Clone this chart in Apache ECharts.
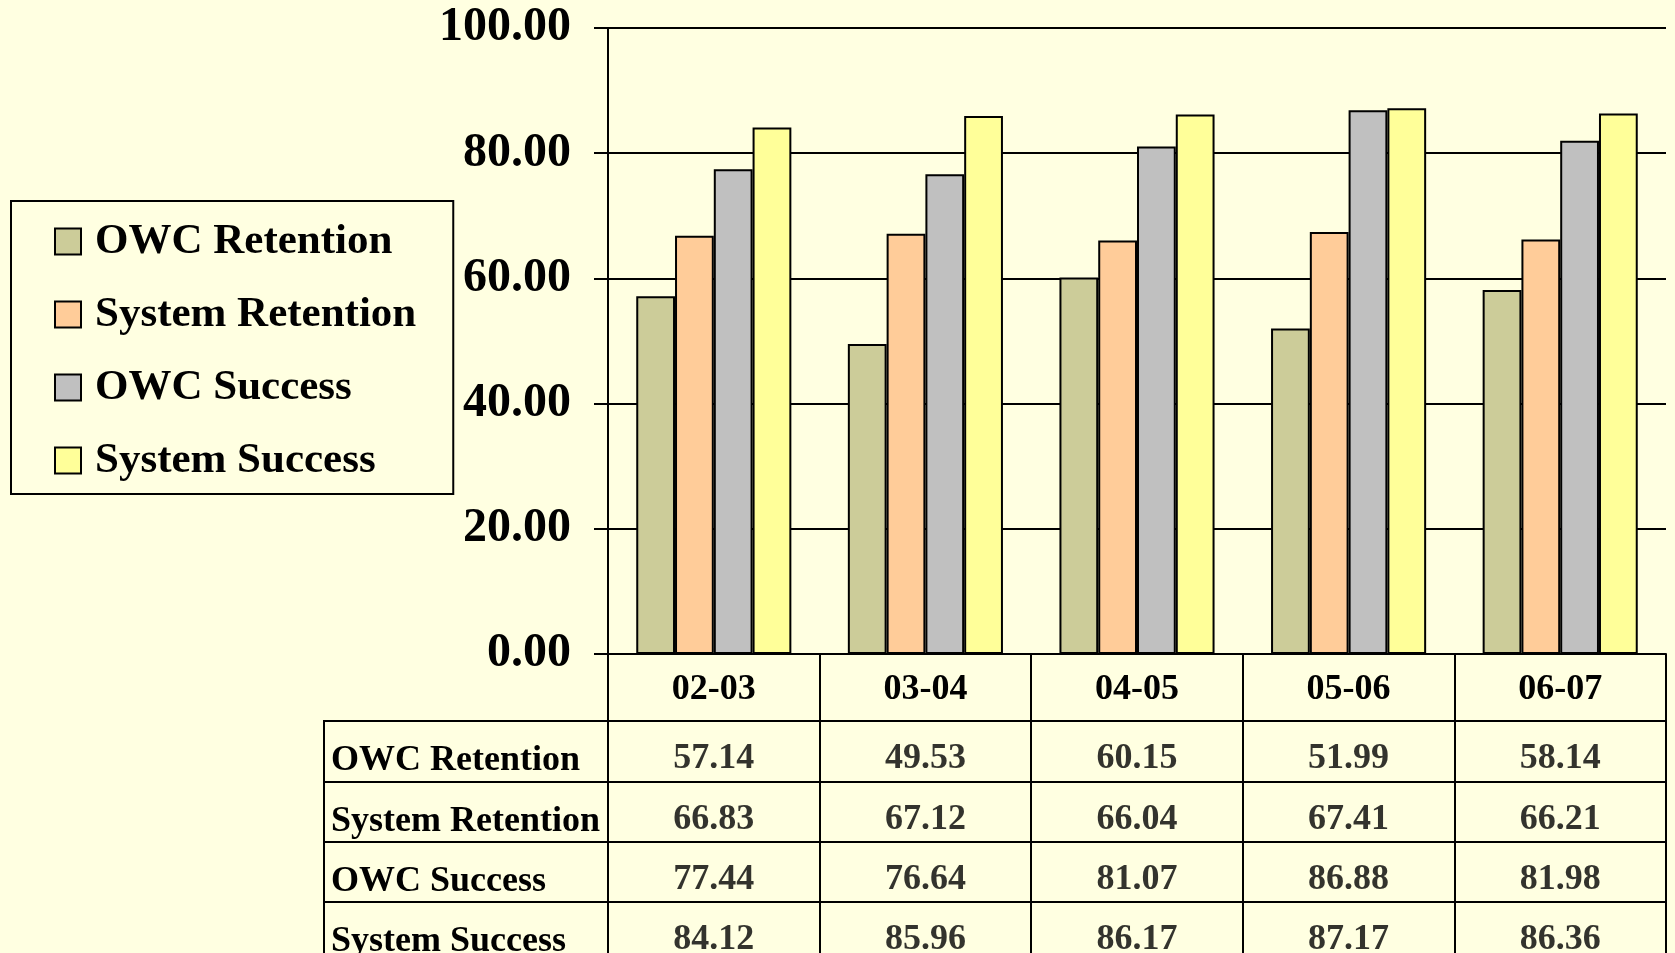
<!DOCTYPE html>
<html>
<head>
<meta charset="utf-8">
<script src="https://cdn.jsdelivr.net/npm/echarts@6/dist/echarts.min.js"></script>
<style>
html,body{margin:0;padding:0;background:#FFFFE1;}
#c{width:1675px;height:953px;}
</style>
</head>
<body>
<div id="c"></div>
<script>
const categories = ['02-03', '03-04', '04-05', '05-06', '06-07'];
const seriesNames = ['OWC Retention', 'System Retention', 'OWC Success', 'System Success'];
const owcRetention = [57.14, 49.53, 60.15, 51.99, 58.14];
const systemRetention = [66.83, 67.12, 66.04, 67.41, 66.21];
const owcSuccess = [77.44, 76.64, 81.07, 86.88, 81.98];
const systemSuccess = [84.12, 85.96, 86.17, 87.17, 86.36];
const colors = ['#CCCC99', '#FFCC99', '#C0C0C0', '#FFFF99'];
const yTicks = [0, 20, 40, 60, 80, 100];

const allValues = [owcRetention, systemRetention, owcSuccess, systemSuccess];
const FONT = '"Liberation Serif", "Times New Roman", serif';

const chart = echarts.init(document.getElementById('c'));

const tableData = [];
allValues.forEach((arr, si) => arr.forEach((v, ci) => tableData.push([ci, si, v])));

const barSeries = seriesNames.map((name, i) => ({
  name: name,
  type: 'bar',
  xAxisIndex: 0,
  yAxisIndex: 0,
  data: allValues[i],
  barGap: '0%',
  barCategoryGap: '26.7%',
  itemStyle: { color: colors[i], borderColor: '#000', borderWidth: 2 },
  emphasis: { disabled: true }
}));

chart.setOption({
  backgroundColor: '#FFFFE1',
  animation: false,
  legend: {
    data: seriesNames,
    orient: 'vertical',
    left: 11,
    top: 201,
    padding: [19, 37, 12, 43],
    borderColor: '#000',
    borderWidth: 2,
    itemWidth: 26,
    itemHeight: 26,
    itemGap: 30,
    icon: 'rect',
    itemStyle: { borderColor: '#000', borderWidth: 2 },
    textStyle: {
      fontFamily: FONT, fontWeight: 'bold', fontSize: 43, color: '#000',
      lineHeight: 30, padding: [0, 0, 0, 9]
    },
    selectedMode: false
  },
  grid: [
    { left: 608, top: 28, width: 1058, height: 626, outerBoundsMode: 'none' },
    { left: 608, top: 721, width: 1058, height: 241, outerBoundsMode: 'none' }
  ],
  xAxis: [
    {
      type: 'category',
      gridIndex: 0,
      data: categories,
      axisLine: { show: true, lineStyle: { color: '#000', width: 2 } },
      axisTick: { show: true, length: 300, lineStyle: { color: '#000', width: 2 } },
      axisLabel: {
        fontFamily: FONT, fontWeight: 'bold', fontSize: 36, color: '#000',
        margin: 36, verticalAlign: 'middle'
      },
      splitLine: { show: false }
    },
    {
      type: 'category',
      gridIndex: 1,
      data: categories,
      axisLine: { show: false },
      axisTick: { show: false },
      axisLabel: { show: false },
      splitLine: { show: false }
    }
  ],
  yAxis: [
    {
      type: 'value',
      gridIndex: 0,
      min: yTicks[0],
      max: yTicks[yTicks.length - 1],
      interval: 20,
      axisLine: { show: true, lineStyle: { color: '#000', width: 2 } },
      axisTick: { show: true, length: 14, lineStyle: { color: '#000', width: 2 } },
      splitLine: { show: true, lineStyle: { color: '#000', width: 2 } },
      axisLabel: {
        fontFamily: FONT, fontWeight: 'bold', fontSize: 48, color: '#000',
        margin: 37, formatter: v => v.toFixed(2)
      }
    },
    {
      type: 'category',
      gridIndex: 1,
      inverse: true,
      data: seriesNames,
      axisLine: { show: true, lineStyle: { color: '#000', width: 2 } },
      axisTick: { show: true, length: 285, lineStyle: { color: '#000', width: 2 } },
      splitLine: { show: true, lineStyle: { color: '#000', width: 2 } },
      axisLabel: {
        fontFamily: FONT, fontWeight: 'bold', fontSize: 36, color: '#000',
        align: 'left', margin: 277, verticalAlign: 'top', lineHeight: 20
      }
    }
  ],
  series: barSeries.concat([{
    type: 'scatter',
    xAxisIndex: 1,
    yAxisIndex: 1,
    symbolSize: 0,
    data: tableData,
    silent: true,
    label: {
      show: true,
      position: 'inside',
      offset: [0, 8],
      fontFamily: FONT, fontWeight: 'bold', fontSize: 36, color: '#000',
      formatter: p => p.value[2].toFixed(2)
    }
  }]),
  graphic: [
    {
      type: 'line',
      shape: { x1: 324, y1: 720, x2: 324, y2: 953 },
      style: { stroke: '#000', lineWidth: 2 }
    }
  ]
});
</script>
</body>
</html>
